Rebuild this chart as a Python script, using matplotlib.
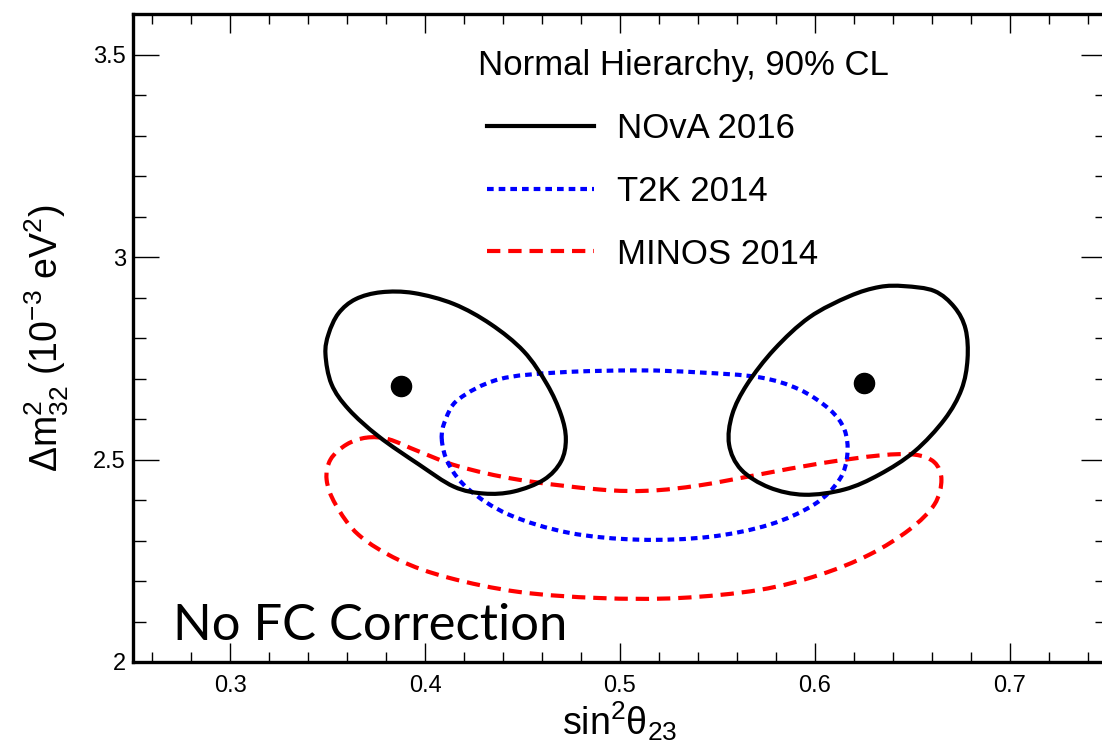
import numpy as np
import matplotlib
matplotlib.use("Agg")
import matplotlib.pyplot as plt
from matplotlib.lines import Line2D
from matplotlib.path import Path
from matplotlib.patches import PathPatch

plt.rcParams['font.family'] = ['Liberation Sans', 'DejaVu Sans']
plt.rcParams['mathtext.fontset'] = 'custom'
plt.rcParams['mathtext.rm'] = 'Liberation Sans'
plt.rcParams['mathtext.it'] = 'Liberation Sans:italic'
plt.rcParams['mathtext.sf'] = 'Liberation Sans'

# 90% CL contours, (sin^2 theta23, dm^2_32 [1e-3 eV^2])
nova_low_x = [0.3774, 0.3643, 0.3555, 0.3504, 0.3488, 0.3519, 0.3607, 0.3761, 0.3967, 0.4147,
              0.4301, 0.4455, 0.4609, 0.4697, 0.4722, 0.4697, 0.4625, 0.4506, 0.4337, 0.4147, 0.3942]
nova_low_y = [2.913, 2.896, 2.861, 2.810, 2.760, 2.686, 2.624, 2.557, 2.488, 2.433,
              2.416, 2.421, 2.450, 2.495, 2.550, 2.611, 2.686, 2.767, 2.834, 2.884, 2.911]

nova_high_x = [0.6460, 0.6614, 0.6717, 0.6774, 0.6784, 0.6753, 0.6666, 0.6512, 0.6332, 0.6152,
               0.5946, 0.5766, 0.5622, 0.5560, 0.5576, 0.5653, 0.5792, 0.5972, 0.6177, 0.6332]
nova_high_y = [2.928, 2.916, 2.876, 2.822, 2.748, 2.673, 2.599, 2.520, 2.463, 2.426,
               2.413, 2.431, 2.475, 2.537, 2.611, 2.686, 2.772, 2.851, 2.903, 2.926]

t2k_x = [0.4085, 0.4105, 0.4172, 0.4378, 0.4686, 0.5098, 0.5406, 0.5715, 0.5920, 0.6075, 0.6152,
         0.6167, 0.6126, 0.5997, 0.5766, 0.5458, 0.5098, 0.4738, 0.4429, 0.4224, 0.4121]
t2k_y = [2.550, 2.599, 2.649, 2.698, 2.715, 2.720, 2.715, 2.703, 2.673, 2.624, 2.574,
         2.512, 2.450, 2.389, 2.339, 2.309, 2.302, 2.319, 2.364, 2.426, 2.488]

minos_x = [0.3699, 0.3812, 0.3967, 0.4172, 0.4481, 0.4892, 0.5149, 0.5406, 0.5715, 0.6023,
           0.6332, 0.6512, 0.6614, 0.6650, 0.6614, 0.6486, 0.6280, 0.6023, 0.5715, 0.5303,
           0.4892, 0.4481, 0.4121, 0.3864, 0.3658, 0.3540, 0.3494, 0.3514, 0.3596]
minos_y = [2.554, 2.550, 2.520, 2.483, 2.450, 2.426, 2.423, 2.436, 2.463, 2.490,
           2.510, 2.512, 2.493, 2.450, 2.389, 2.327, 2.265, 2.215, 2.178, 2.158,
           2.158, 2.173, 2.208, 2.252, 2.314, 2.389, 2.450, 2.500, 2.537]

# NOvA best-fit points
best_x = [0.3874, 0.6254]
best_y = [2.681, 2.688]

labels = ["NOvA 2016", "T2K 2014", "MINOS 2014"]
legend_title = "Normal Hierarchy, 90% CL"


def smooth_closed_path(xs, ys):
    """Closed cubic Bezier path passing through every contour point."""
    p = np.column_stack([xs, ys])
    n = len(p)
    verts = [p[0]]
    codes = [Path.MOVETO]
    for i in range(n):
        p0, p1, p2, p3 = p[i - 1], p[i], p[(i + 1) % n], p[(i + 2) % n]
        verts += [p1 + (p2 - p0) / 6.0, p2 - (p3 - p1) / 6.0, p2]
        codes += [Path.CURVE4] * 3
    return Path(verts, codes)


fig = plt.figure(figsize=(11.02, 7.48), dpi=100)
ax = fig.add_axes([133 / 1102, 86 / 748, 974 / 1102, 648 / 748])

lw = 3.0
styles = {
    'nova': dict(color='black', lw=lw, ls='-'),
    't2k': dict(color='#0000ff', lw=lw, ls=(0, (1.6, 1.2))),
    'minos': dict(color='#ff0000', lw=lw, ls=(0, (3.2, 1.9))),
}

for xs, ys, key in [(minos_x, minos_y, 'minos'), (t2k_x, t2k_y, 't2k'),
                    (nova_low_x, nova_low_y, 'nova'), (nova_high_x, nova_high_y, 'nova')]:
    st = styles[key]
    ax.add_patch(PathPatch(smooth_closed_path(xs, ys), fill=False, edgecolor=st['color'],
                           lw=st['lw'], ls=st['ls'], capstyle='butt', joinstyle='round'))

ax.plot(best_x, best_y, 'o', color='black', ms=14.5, zorder=5)

ax.set_xlim(0.25, 0.75)
ax.set_ylim(2.0, 3.6)
ax.set_xticks([0.3, 0.4, 0.5, 0.6, 0.7])
ax.set_xticklabels(['0.3', '0.4', '0.5', '0.6', '0.7'])
ax.set_xticks(np.arange(0.26, 0.75, 0.02), minor=True)
ax.set_yticks([2.0, 2.5, 3.0, 3.5])
ax.set_yticklabels(['2', '2.5', '3', '3.5'])
ax.set_yticks(np.arange(2.0, 3.61, 0.1), minor=True)

ax.tick_params(which='both', direction='in', top=True, right=True, width=1.0,
               labelsize=17)
ax.tick_params(axis='x', which='major', length=14, pad=9)
ax.tick_params(axis='x', which='minor', length=7)
ax.tick_params(axis='y', which='major', length=19, pad=5)
ax.tick_params(axis='y', which='minor', length=9)
for s in ax.spines.values():
    s.set_linewidth(2.4)

ax.set_xlabel(r'$\mathregular{sin^{2}\theta_{23}}$', fontsize=27, labelpad=2)
ax.set_ylabel(r'$\mathregular{\Delta m^{2}_{32}\ (10^{-3}\ eV^{2})}$', fontsize=27,
              labelpad=16)

handles = [Line2D([], [], color=styles[k]['color'], lw=styles[k]['lw'], ls=styles[k]['ls'],
                  dash_capstyle='butt') for k in ('nova', 't2k', 'minos')]
ax.text(0.354, 0.921, legend_title, transform=ax.transAxes, fontsize=25,
        ha='left', va='center')
ax.legend(handles, labels, loc='upper left', bbox_to_anchor=(0.363, 0.849),
          frameon=False, fontsize=25, handlelength=3.1, handletextpad=0.65,
          labelspacing=0.86, borderpad=0, borderaxespad=0)

ax.text(0.2706, 2.054, 'No FC Correction', fontsize=36.5, family='Lato',
        ha='left', va='baseline')

fig.savefig('out.png', dpi=100)
